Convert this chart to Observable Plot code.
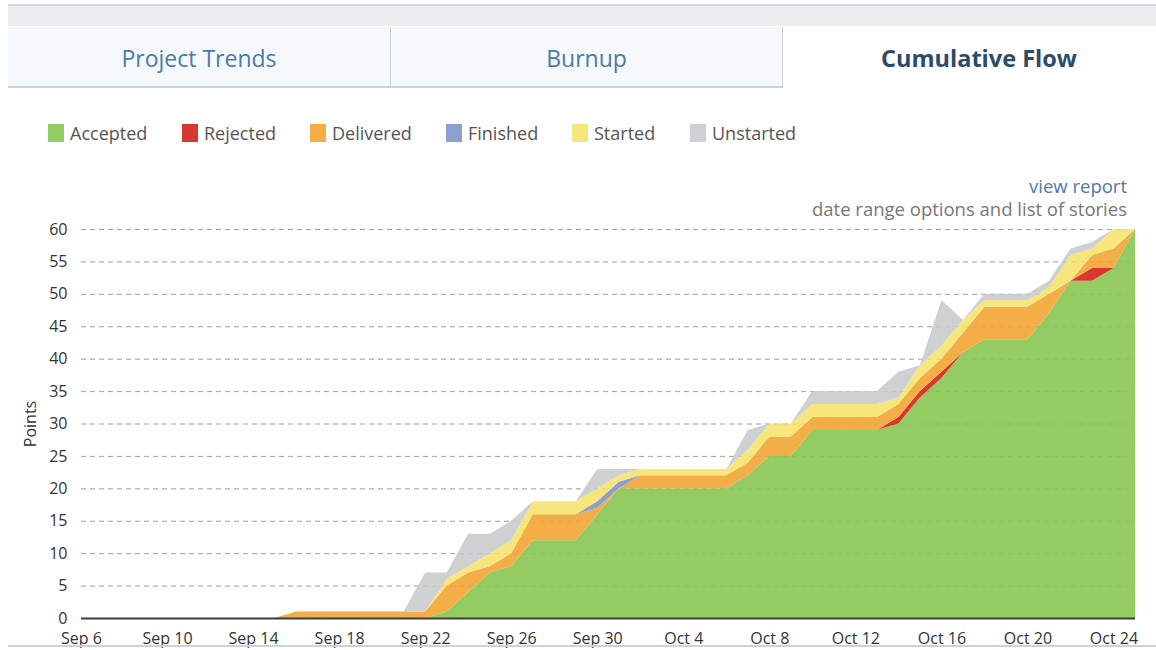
<!DOCTYPE html>
<html>
<head>
<meta charset="utf-8">
<script src="https://cdn.jsdelivr.net/npm/d3@7"></script>
<script src="https://cdn.jsdelivr.net/npm/@observablehq/plot@0.6"></script>
<style>
  html, body { margin: 0; padding: 0; background: #fff; }
  body { width: 1156px; height: 650px; position: relative; overflow: hidden; font-family: "Open Sans", sans-serif; }
  #topbar { position: absolute; left: 8px; right: 0; top: 4px; height: 20px; background: #eceef0; border-top: 2px solid #d3d8dc; }
  .tab { position: absolute; top: 27px; height: 59px; line-height: 62px; text-align: center; font-size: 23px; color: #4b7aab; background: #f6f9fb; border-bottom: 2px solid #c9d3db; border-right: 1px solid #c9d3db; box-sizing: content-box; }
  .tab.active { background: #fff; border: none; color: #2c4b6a; font-weight: 700; font-size: 23.5px; }
  #legend { position: absolute; top: 121px; left: 0; height: 24px; }
  .li { position: absolute; top: 0; display: flex; align-items: center; font-size: 18px; color: #555; white-space: nowrap; }
  .sw { width: 16px; height: 18px; margin-right: 6px; }
  #links { position: absolute; right: 29px; top: 174px; text-align: right; font-size: 18.5px; line-height: 23px; }
  #links .a { color: #4b7aab; }
  #links .b { color: #777; }
  #chart { position: absolute; left: 0; top: 220px; }
  #chart svg { overflow: visible; }
  #bottomline { position: absolute; left: 8px; right: 0; top: 645px; height: 2px; background: #cdd2d6; }
</style>
</head>
<body>
<div id="topbar"></div>
<div id="tabs"></div>
<div id="legend"></div>
<div id="links"><div class="a">view report</div><div class="b">date range options and list of stories</div></div>
<div id="chart"></div>
<div id="bottomline"></div>
<script>
// ---- data ----
const tabs = ["Project Trends", "Burnup", "Cumulative Flow"];
const statuses = ["Accepted", "Rejected", "Delivered", "Finished", "Started", "Unstarted"];
const colors = ["#92cc63", "#d8392f", "#f4ae48", "#8c9fd0", "#f6e67b", "#cfd0d2"];
const dates = [
  "2015-09-06","2015-09-07","2015-09-08","2015-09-09","2015-09-10","2015-09-11","2015-09-12","2015-09-13",
  "2015-09-14","2015-09-15","2015-09-16","2015-09-17","2015-09-18","2015-09-19","2015-09-20","2015-09-21",
  "2015-09-22","2015-09-23","2015-09-24","2015-09-25","2015-09-26","2015-09-27","2015-09-28","2015-09-29",
  "2015-09-30","2015-10-01","2015-10-02","2015-10-03","2015-10-04","2015-10-05","2015-10-06","2015-10-07",
  "2015-10-08","2015-10-09","2015-10-10","2015-10-11","2015-10-12","2015-10-13","2015-10-14","2015-10-15",
  "2015-10-16","2015-10-17","2015-10-18","2015-10-19","2015-10-20","2015-10-21","2015-10-22","2015-10-23",
  "2015-10-24","2015-10-25"
];
const accepted  = [0,0,0,0,0,0,0,0, 0,0,0,0,0,0,0,0, 0,1,4,7,8,12,12,12, 16,20,20,20,20,20,20,22, 25,25,29,29,29,29,30,34, 37,41,43,43,43,47,52,52, 54,60];
const rejected  = [0,0,0,0,0,0,0,0, 0,0,0,0,0,0,0,0, 0,0,0,0,0,0,0,0, 0,0,0,0,0,0,0,0, 0,0,0,0,0,0,1,1, 1,0,0,0,0,0,0,2, 0,0];
const delivered = [0,0,0,0,0,0,0,0, 0,0,1,1,1,1,1,1, 1,4,3,1,2,4,4,4, 1,0,2,2,2,2,2,2, 3,3,2,2,2,2,2,2, 2,3,5,5,5,3,0,2, 3,0];
const finished  = [0,0,0,0,0,0,0,0, 0,0,0,0,0,0,0,0, 0,0,0,0,0,0,0,0, 1,1,0,0,0,0,0,0, 0,0,0,0,0,0,0,0, 0,0,0,0,0,0,0,0, 0,0];
const started   = [0,0,0,0,0,0,0,0, 0,0,0,0,0,0,0,0, 0,1,1,2,2,2,2,2, 2,1,1,1,1,1,1,2, 2,2,2,2,2,2,1,2, 2,2,1,1,1,1,4,1, 3,0];
const unstarted = [0,0,0,0,0,0,0,0, 0,0,0,0,0,0,0,0, 6,1,5,3,3,0,0,0, 3,1,0,0,0,0,0,3, 0,0,2,2,2,2,4,0, 7,0,1,1,1,1,1,1, 0,0];
const xTickLabels = ["Sep 6","Sep 10","Sep 14","Sep 18","Sep 22","Sep 26","Sep 30","Oct 4","Oct 8","Oct 12","Oct 16","Oct 20","Oct 24"];
const yTicks = [0,5,10,15,20,25,30,35,40,45,50,55,60];

// ---- layout helpers (positions/styles only) ----
const tabBoxes = [[8, 382], [391, 391], [783, 392]];
const legendX = [48, 182, 310, 446, 572, 690];

const tabsEl = document.getElementById("tabs");
tabs.forEach((t, i) => {
  const d = document.createElement("div");
  d.className = "tab" + (i === 2 ? " active" : "");
  d.style.left = tabBoxes[i][0] + "px";
  d.style.width = tabBoxes[i][1] + "px";
  d.textContent = t;
  tabsEl.appendChild(d);
});

const legendEl = document.getElementById("legend");
statuses.forEach((s, i) => {
  const item = document.createElement("div");
  item.className = "li";
  item.style.left = legendX[i] + "px";
  const sw = document.createElement("span");
  sw.className = "sw";
  sw.style.background = colors[i];
  item.appendChild(sw);
  const tx = document.createElement("span");
  tx.textContent = s;
  item.appendChild(tx);
  legendEl.appendChild(item);
});

// ---- chart ----
const parse = d3.utcParse("%Y-%m-%d");
const series = [accepted, rejected, delivered, finished, started, unstarted];
const rows = [];
statuses.forEach((s, k) => dates.forEach((d, i) => rows.push({date: parse(d), status: s, value: series[k][i]})));
const xTicks = xTickLabels.map(l => d3.utcParse("%b %d %Y")(l + " 2015"));

const chart = Plot.plot({
  width: 1156,
  height: 430,
  marginLeft: 81,
  marginRight: 21,
  marginTop: 9,
  marginBottom: 32,
  style: {fontFamily: '"Open Sans", sans-serif', fontSize: "16px", color: "#333", background: "transparent", overflow: "visible"},
  x: {type: "utc", domain: [parse(dates[0]), parse(dates[dates.length - 1])]},
  y: {domain: [0, 60]},
  color: {domain: statuses, range: colors},
  marks: [
    Plot.gridY(yTicks, {stroke: "#9c9c9c", strokeOpacity: 0.85, strokeDasharray: "5,4"}),
    Plot.areaY(rows, {x: "date", y: "value", fill: "status", order: statuses, curve: "linear"}),
    Plot.gridY(yTicks, {stroke: "#556", strokeOpacity: 0.1, strokeDasharray: "5,4"}),
    Plot.ruleY([0], {stroke: "#3d3d3d", strokeWidth: 2}),
    Plot.axisY(yTicks, {tickSize: 0, tickPadding: 14, label: "Points", labelAnchor: "center", labelOffset: 57, labelArrow: "none", fontSize: 16}),
    Plot.axisX(xTicks, {tickSize: 0, tickPadding: 14, tickFormat: d3.utcFormat("%b %-d"), label: null, fontSize: 16})
  ]
});
document.getElementById("chart").appendChild(chart);
</script>
</body>
</html>
